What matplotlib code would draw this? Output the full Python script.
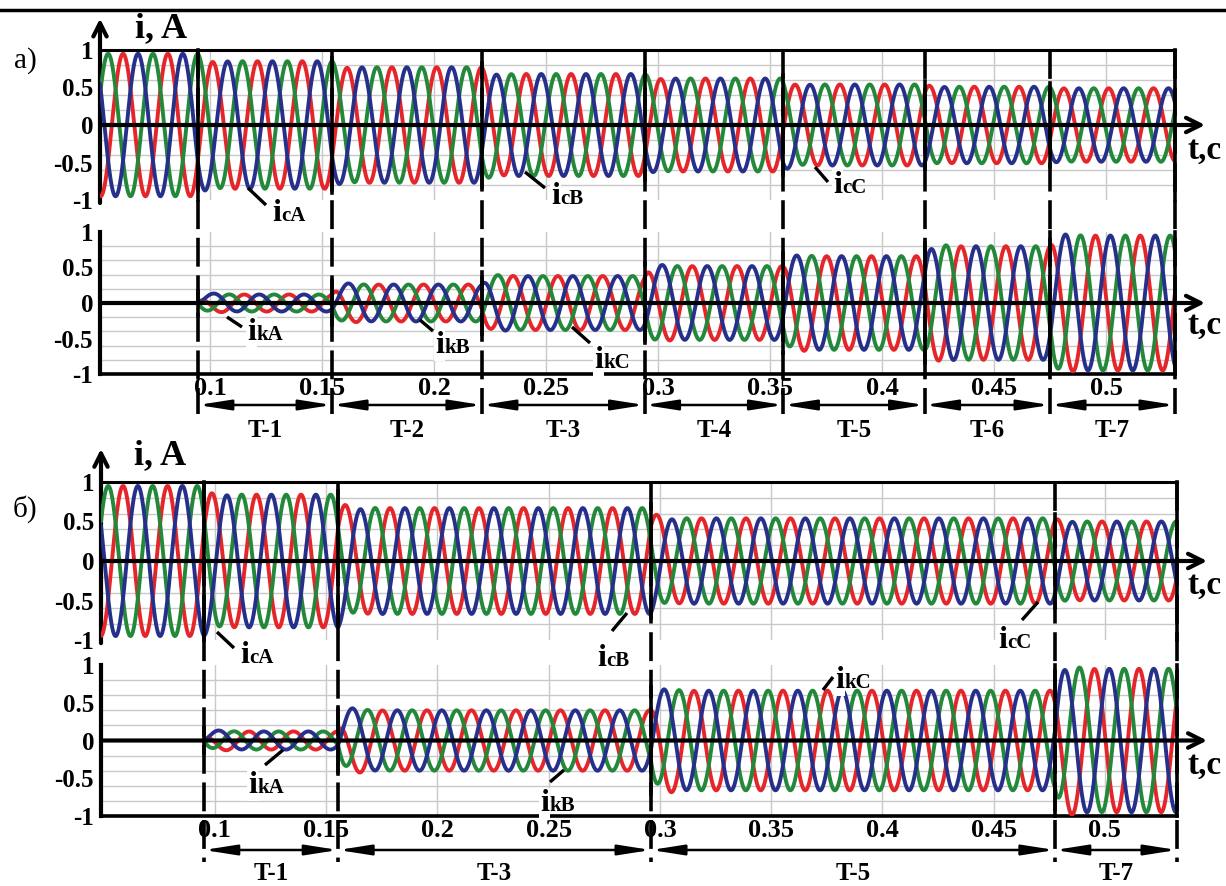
"""
Three-phase currents in the line (i_c) and in the compensator (i_k)
for stepwise switching of compensator stages T-1 ... T-7.
"""

import numpy as np
import matplotlib.pyplot as plt
from matplotlib.transforms import blended_transform_factory

W, H = 1226, 886
SERIF = ['Liberation Serif', 'DejaVu Serif']
plt.rcParams['font.family'] = SERIF

RED, BLUE, GREEN = '#e4262b', '#26308a', '#23883a'
GRID = '#c9c9c9'

# ─── DATA ───────────────────────────────────────────────────────────────────

FREQ = 50.0          # Hz
TAU = 0.004          # decay of the switching transient, s

# panel а): stage switching instants (last one = end of record), s
A_EDGES = [0.0946, 0.1545, 0.2214, 0.2940, 0.3560, 0.4190, 0.4750, 0.5308]
# amplitudes per interval (first one = before first switching), A
A_IC = [0.95, 0.85, 0.77, 0.68, 0.62, 0.54, 0.51, 0.49]
A_IK = [0.00, 0.12, 0.26, 0.38, 0.52, 0.66, 0.80, 0.95]
A_STAGES = ['T-1', 'T-2', 'T-3', 'T-4', 'T-5', 'T-6', 'T-7']

# panel б)
B_EDGES = [0.0950, 0.1554, 0.2960, 0.4775, 0.5324]
B_IC = [0.95, 0.84, 0.67, 0.54, 0.50]
B_IK = [0.00, 0.12, 0.40, 0.66, 0.95]
B_STAGES = ['T-1', 'T-3', 'T-5', 'T-7']

X_TICKS = [0.1, 0.15, 0.2, 0.25, 0.3, 0.35, 0.4, 0.45, 0.5]
X_TICKLABELS = ['0.1', '0.15', '0.2', '0.25', '0.3', '0.35', '0.4', '0.45', '0.5']
Y_TICKS = [-1, -0.5, 0, 0.5, 1]
Y_TICKLABELS = ['-1', '-0.5', '0', '0.5', '1']

# time of the red-phase peak (phase reference) for i_c and i_k
A_PEAK = (0.0012, 0.0153)
B_PEAK = (-0.0013, 0.0153)


# ─── HELPERS ────────────────────────────────────────────────────────────────

SHIFTS = [(0.0, RED), (2 * np.pi / 3, GREEN), (-2 * np.pi / 3, BLUE)]


def three_phase(t, edges, amps, tpk):
    """Phase currents, piecewise amplitude, continuous at each switching."""
    w = 2 * np.pi * FREQ
    amps = np.asarray(amps)
    seg = np.clip(np.searchsorted(edges, t, side='right'), 0, len(amps) - 1)
    out = []
    for sh, col in SHIFTS:
        y = amps[seg] * np.cos(w * (t - tpk) + sh)
        for i, te in enumerate(edges[:-1]):
            jump = (amps[i] - amps[i + 1]) * np.cos(w * (te - tpk) + sh)
            m = (t >= te) & (t < edges[i + 1])
            y[m] += jump * np.exp(-(t[m] - te) / TAU)
        if amps[0] == 0:
            y[t < edges[0]] = np.nan
        out.append((y, col))
    return out


def add_ax(fig, x0, x1, y0, y1):
    return fig.add_axes([x0 / W, 1 - y1 / H, (x1 - x0) / W, (y1 - y0) / H])


def style_ax(ax, xlim, top, bottom_labels):
    ax.set_xlim(*xlim)
    ax.set_ylim(-1, 1)
    ax.set_yticks(Y_TICKS)
    ax.set_yticklabels(Y_TICKLABELS, fontsize=18, fontweight='bold')
    ax.set_yticks(np.arange(-1, 1.01, 0.2), minor=True)
    ax.set_xticks(X_TICKS)
    if bottom_labels:
        ax.set_xticklabels(X_TICKLABELS, fontsize=19, fontweight='bold')
    else:
        ax.set_xticklabels([])
    ax.tick_params(which='both', length=0, pad=5)
    ax.tick_params(axis='x', pad=2)
    ax.grid(True, which='major', axis='x', color=GRID, lw=1)
    ax.grid(True, which='minor', axis='y', color=GRID, lw=1)
    ax.set_axisbelow(True)
    ax.spines['right'].set_visible(False)
    ax.spines['left'].set_linewidth(3)
    if top:
        ax.spines['top'].set_linewidth(2.2)
        ax.spines['bottom'].set_visible(False)
        # vertical axis arrow
        ax.annotate('', xy=(0, 1.21), xycoords='axes fraction', xytext=(0, -0.02),
                    textcoords='axes fraction', annotation_clip=False,
                    arrowprops=dict(arrowstyle='->', lw=3, color='k', mutation_scale=24,
                                    shrinkA=0, shrinkB=0))
        ax.spines['left'].set_visible(False)
    else:
        ax.spines['top'].set_visible(False)
        ax.spines['bottom'].set_linewidth(2.6)
    # horizontal time axis with arrow
    ax.annotate('', xy=(1.028, 0), xycoords=('axes fraction', 'data'), xytext=(0, 0),
                textcoords=('axes fraction', 'data'), annotation_clip=False,
                arrowprops=dict(arrowstyle='->', lw=3, color='k', mutation_scale=26,
                                shrinkA=0, shrinkB=0), zorder=5)


def draw_panel(fig, px, xlim, edges, ic, ik, peaks, stages, line_px, arrow_px):
    x0, x1, yt0, yt1, yb0, yb1 = px
    ax_c = add_ax(fig, x0, x1, yt0, yt1)
    ax_k = add_ax(fig, x0, x1, yb0, yb1)
    style_ax(ax_c, xlim, True, False)
    style_ax(ax_k, xlim, False, True)

    t = np.linspace(xlim[0], edges[-1], 8000)
    for ax, amps, tpk in ((ax_c, ic, peaks[0]), (ax_k, ik, peaks[1])):
        for y, col in three_phase(t, edges, amps, tpk):
            ax.plot(t, y, color=col, lw=2.8, solid_capstyle='round', zorder=3)

    # switching instants: dashed through both plots, solid where the curves jump
    tr = blended_transform_factory(ax_k.transData, fig.transFigure)
    for i, te in enumerate(edges):
        ax_k.plot([te, te], [1 - line_px[0] / H, 1 - line_px[1] / H], transform=tr,
                  color='k', lw=2.6, ls=(0, (8, 2.4)), clip_on=False, zorder=6)
        for ax, amps in ((ax_c, ic), (ax_k, ik)):
            if i == len(edges) - 1:
                lo, hi = -1, 1
            else:
                hi = max(amps[i], amps[i + 1]) + 0.05
                lo = -hi
            ax.plot([te, te], [lo, hi], color='k', lw=2.6, clip_on=False, zorder=6)

    # stage intervals
    ya = (yb1 - arrow_px[0]) / (yb1 - yb0)
    yl = (yb1 - arrow_px[1]) / (yb1 - yb0)
    for i, name in enumerate(stages):
        ax_k.annotate('', xy=(edges[i + 1], ya), xycoords=('data', 'axes fraction'),
                      xytext=(edges[i], ya), textcoords=('data', 'axes fraction'),
                      annotation_clip=False,
                      arrowprops=dict(arrowstyle='<|-|>,head_length=1.4,head_width=0.22',
                                      lw=1.8, color='k', mutation_scale=14,
                                      shrinkA=0, shrinkB=0))
        ax_k.text((edges[i] + edges[i + 1]) / 2, yl, name, transform=ax_k.get_xaxis_transform(),
                  ha='center', va='center', fontsize=18, fontweight='bold')
    return ax_c, ax_k


# ─── FIGURE ─────────────────────────────────────────────────────────────────

fig = plt.figure(figsize=(W / 100, H / 100), dpi=100)

draw_panel(fig, (100, 1175, 50, 200, 232, 374), (0.0509, A_EDGES[-1]), A_EDGES,
           A_IC, A_IK, A_PEAK, A_STAGES, (50, 414), (405, 430))
draw_panel(fig, (101, 1177, 482, 640, 665, 816), (0.0488, B_EDGES[-1]), B_EDGES,
           B_IC, B_IK, B_PEAK, B_STAGES, (482, 862), (850, 874))

# overlay in pixel coordinates for captions and leaders
ov = fig.add_axes([0, 0, 1, 1], zorder=10)
ov.set_xlim(0, W)
ov.set_ylim(H, 0)
ov.axis('off')

ov.plot([0, W], [10, 10], color='k', lw=2.5)

for (x, y) in ((161, 29), (160, 456)):
    ov.text(x, y, 'i, A', fontsize=26, fontweight='bold', ha='center', va='center')
for y in (150, 325, 585, 765):
    ov.text(1205, y, 't,c', fontsize=24, fontweight='bold', ha='center', va='center')
ov.text(25, 61, 'а)', fontsize=21, ha='center', va='center')
ov.text(25, 509, 'б)', fontsize=21, ha='center', va='center')

LABELS = [
    # sub, i-left x, baseline y, leader (x0, y0, x1, y1)
    ('cA', 272, 221, (248, 188, 266, 205)),
    ('cB', 551, 204, (525, 172, 545, 188)),
    ('cC', 833, 193, (815, 167, 828, 182)),
    ('kA', 247, 340, (227, 317, 242, 327)),
    ('kB', 435, 353, (420, 320, 433, 331)),
    ('kC', 594, 368, (572, 327, 590, 343)),
    ('cA', 240, 663, (217, 632, 234, 648)),
    ('cB', 597, 666, (627, 613, 612, 631)),
    ('cC', 998, 648, (1038, 602, 1022, 620)),
    ('kA', 248, 793, (283, 750, 265, 765)),
    ('kB', 540, 811, (564, 770, 550, 782)),
    ('kC', 835, 688, (823, 690, 833, 677)),
]
for sub, x, y, (lx0, ly0, lx1, ly1) in LABELS:
    ov.plot([lx0, lx1], [ly0, ly1], color='k', lw=2.4, solid_capstyle='butt')
    ov.text(x, y, 'i', fontsize=23, fontweight='bold', ha='left', va='baseline',
            bbox=dict(facecolor='white', edgecolor='none', pad=0.5))
    ov.text(x + 9, y, sub, fontsize=15, fontweight='bold', ha='left', va='baseline')

fig.savefig('out.png', dpi=100)
